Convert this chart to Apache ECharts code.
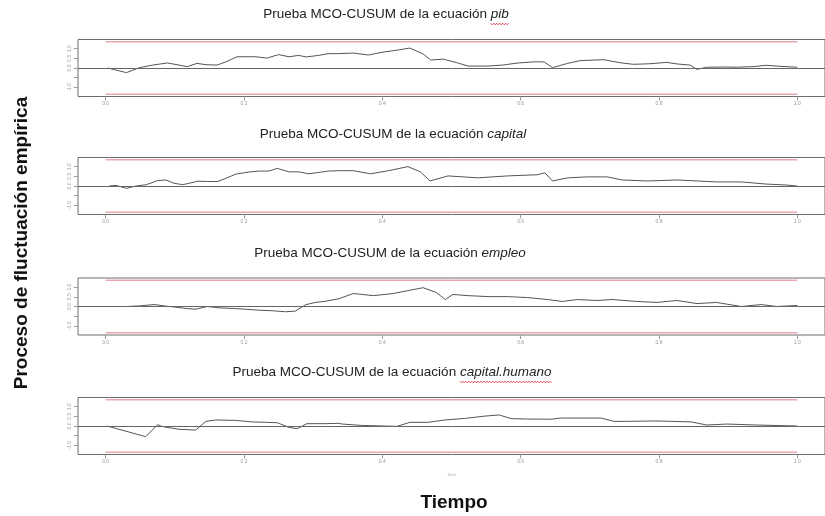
<!DOCTYPE html>
<html>
<head>
<meta charset="utf-8">
<script src="https://cdn.jsdelivr.net/npm/echarts@6/dist/echarts.min.js"></script>
<style>
  html, body { margin: 0; padding: 0; background: #fff; }
  #chart { width: 825px; height: 516px; }
</style>
</head>
<body>
<div id="chart"></div>
<script>
// Equation names shown in each panel title
const equations = ['pib', 'capital', 'empleo', 'capital.humano'];
// Tick positions and labels
const xTicks = [0, 0.2, 0.4, 0.6, 0.8, 1.0];
const yTicks = [-1, -0.5, 0, 0.5, 1];
const yLabelTicks = [-1, 0, 0.5, 1];
// 5% critical boundary of the OLS-CUSUM process
const boundary = 1.358;

// Empirical fluctuation process, [time, value]
const cusumPib = [
  [0.003, 0.00], [0.03, -0.24], [0.049, 0.02], [0.068, 0.15], [0.089, 0.26], [0.10, 0.19],
  [0.118, 0.07], [0.132, 0.24], [0.145, 0.17], [0.161, 0.15], [0.174, 0.32], [0.19, 0.58],
  [0.217, 0.58], [0.233, 0.51], [0.25, 0.69], [0.265, 0.58], [0.279, 0.65], [0.29, 0.57],
  [0.308, 0.65], [0.322, 0.74], [0.337, 0.74], [0.358, 0.77], [0.38, 0.67], [0.401, 0.82],
  [0.423, 0.93], [0.44, 1.03], [0.459, 0.72], [0.47, 0.41], [0.488, 0.46], [0.509, 0.26],
  [0.524, 0.10], [0.553, 0.10], [0.574, 0.15], [0.596, 0.26], [0.617, 0.31], [0.624, 0.32],
  [0.634, 0.31], [0.646, 0.02], [0.668, 0.24], [0.686, 0.38], [0.72, 0.43], [0.744, 0.27],
  [0.763, 0.19], [0.787, 0.22], [0.811, 0.29], [0.826, 0.21], [0.845, 0.15], [0.855, -0.07],
  [0.869, 0.04], [0.893, 0.05], [0.912, 0.04], [0.936, 0.07], [0.955, 0.14], [0.974, 0.09],
  [1.0, 0.04]
];
const cusumCapital = [
  [0.005, 0.00], [0.015, 0.03], [0.03, -0.12], [0.044, 0.00], [0.059, 0.07], [0.075, 0.28],
  [0.087, 0.31], [0.099, 0.14], [0.111, 0.07], [0.121, 0.14], [0.133, 0.25], [0.147, 0.23],
  [0.162, 0.23], [0.174, 0.40], [0.188, 0.61], [0.207, 0.72], [0.222, 0.77], [0.236, 0.77],
  [0.248, 0.91], [0.265, 0.73], [0.279, 0.73], [0.294, 0.63], [0.308, 0.70], [0.322, 0.77],
  [0.337, 0.79], [0.358, 0.79], [0.383, 0.63], [0.409, 0.79], [0.437, 1.00], [0.455, 0.73],
  [0.469, 0.26], [0.495, 0.52], [0.538, 0.42], [0.581, 0.52], [0.624, 0.58], [0.635, 0.68],
  [0.646, 0.26], [0.668, 0.42], [0.696, 0.47], [0.725, 0.47], [0.747, 0.31], [0.783, 0.26],
  [0.826, 0.31], [0.855, 0.26], [0.883, 0.21], [0.919, 0.21], [0.955, 0.10], [0.984, 0.05],
  [1.0, 0.00]
];
const cusumEmpleo = [
  [0.008, 0.00], [0.03, 0.00], [0.049, 0.03], [0.07, 0.10], [0.087, 0.02], [0.10, -0.03],
  [0.116, -0.10], [0.13, -0.14], [0.147, 0.00], [0.164, -0.07], [0.183, -0.10], [0.202, -0.14],
  [0.222, -0.19], [0.241, -0.22], [0.26, -0.27], [0.274, -0.24], [0.289, 0.09], [0.303, 0.21],
  [0.318, 0.27], [0.337, 0.40], [0.358, 0.67], [0.387, 0.56], [0.416, 0.67], [0.437, 0.82],
  [0.459, 0.97], [0.478, 0.72], [0.491, 0.36], [0.502, 0.62], [0.524, 0.56], [0.553, 0.51],
  [0.581, 0.51], [0.61, 0.46], [0.639, 0.36], [0.66, 0.26], [0.682, 0.36], [0.711, 0.31],
  [0.732, 0.36], [0.768, 0.26], [0.797, 0.21], [0.826, 0.31], [0.855, 0.15], [0.883, 0.21],
  [0.919, 0.00], [0.948, 0.10], [0.97, 0.00], [1.0, 0.05]
];
const cusumCapitalHumano = [
  [0.002, 0.00], [0.058, -0.55], [0.075, 0.07], [0.082, -0.03], [0.106, -0.17], [0.13, -0.21],
  [0.145, 0.24], [0.159, 0.31], [0.188, 0.29], [0.212, 0.21], [0.231, 0.19], [0.248, 0.17],
  [0.265, -0.07], [0.277, -0.14], [0.291, 0.12], [0.318, 0.12], [0.337, 0.14], [0.342, 0.10],
  [0.37, 0.03], [0.401, 0.00], [0.421, -0.02], [0.44, 0.19], [0.466, 0.19], [0.49, 0.31],
  [0.519, 0.39], [0.548, 0.51], [0.569, 0.57], [0.586, 0.38], [0.61, 0.36], [0.644, 0.35],
  [0.658, 0.41], [0.716, 0.41], [0.735, 0.24], [0.754, 0.24], [0.797, 0.26], [0.847, 0.21],
  [0.869, 0.05], [0.898, 0.10], [0.941, 0.05], [1.0, 0.00]
];
const panelData = [cusumPib, cusumCapital, cusumEmpleo, cusumCapitalHumano];

// Layout of the four stacked panels
const gridTops = [39.5, 157.5, 278, 397.5];
const gridHeight = 57;
const titleY = [14, 134, 253, 372];
const titleX = [386, 393, 390, 392];
const FONT = '"Liberation Sans", Arial, sans-serif';
const TITLE_SIZE = 13.5;

const chart = echarts.init(document.getElementById('chart'), null, { renderer: 'canvas' });

const grids = [], xAxes = [], yAxes = [], series = [], graphics = [];

// width measurement for the spell-check squiggles under two of the titles
const mctx = document.createElement('canvas').getContext('2d');
function textWidth(str, italic) {
  mctx.font = (italic ? 'italic ' : '') + TITLE_SIZE + 'px ' + FONT;
  return mctx.measureText(str).width;
}
function squiggle(x0, x1, y) {
  const pts = [];
  let up = true;
  for (let x = x0; x <= x1; x += 1.5) { pts.push([x, y + (up ? -0.8 : 0.8)]); up = !up; }
  return {
    type: 'polyline', silent: true,
    shape: { points: pts },
    style: { stroke: '#e0454f', lineWidth: 1, fill: null }
  };
}

equations.forEach((name, i) => {
  grids.push({
    left: 78, width: 751, top: gridTops[i], height: gridHeight,
    show: true, borderColor: '#6e6e6e', borderWidth: 1, backgroundColor: 'transparent'
  });
  xAxes.push({
    gridIndex: i, type: 'value', min: -0.04, max: 1.04, position: 'bottom',
    axisLine: { show: false, onZero: false },
    splitLine: { show: false },
    axisTick: { show: true, customValues: xTicks, length: 4, lineStyle: { color: '#999' } },
    axisLabel: {
      customValues: xTicks, fontSize: 5, color: '#999', margin: 5, fontFamily: FONT,
      formatter: v => v.toFixed(1)
    },
    name: i === 3 ? 'Time' : '',
    nameLocation: 'middle', nameGap: 18,
    nameTextStyle: { fontSize: 4, color: '#aaa', fontFamily: FONT }
  });
  yAxes.push({
    gridIndex: i, type: 'value', min: -1.47, max: 1.47, position: 'left',
    axisLine: { show: false, onZero: false },
    splitLine: { show: false },
    axisTick: { show: true, customValues: yTicks, length: 4, lineStyle: { color: '#999' } },
    axisLabel: {
      customValues: yLabelTicks, fontSize: 5, color: '#999', margin: 6, rotate: 90,
      fontFamily: FONT, formatter: v => v.toFixed(1)
    }
  });
  // upper and lower critical boundaries
  [boundary, -boundary].forEach(b => {
    series.push({
      type: 'line', xAxisIndex: i, yAxisIndex: i, silent: true,
      data: [[0, b], [1, b]], showSymbol: false,
      lineStyle: { color: '#eba7b0', width: 1.5 }
    });
  });
  series.push({
    type: 'line', xAxisIndex: i, yAxisIndex: i, silent: true,
    data: panelData[i], showSymbol: false,
    lineStyle: { color: '#555', width: 1 },
    markLine: {
      silent: true, symbol: 'none', label: { show: false },
      lineStyle: { color: '#666', width: 1, type: 'solid' },
      data: [{ yAxis: 0 }]
    }
  });

  // panel title with the equation name in italics
  const base = 'Prueba MCO-CUSUM de la ecuación ';
  graphics.push({
    type: 'text', x: titleX[i], y: titleY[i], silent: true,
    style: {
      text: base + '{i|' + name + '}',
      font: TITLE_SIZE + 'px ' + FONT, fill: '#222',
      align: 'center', verticalAlign: 'middle',
      rich: { i: { fontStyle: 'italic', fontSize: TITLE_SIZE, fontFamily: FONT, fill: '#222' } }
    }
  });
  if (name === 'pib' || name === 'capital.humano') {
    const wb = textWidth(base, false), wi = textWidth(name, true);
    const left = titleX[i] - (wb + wi) / 2;
    graphics.push(squiggle(left + wb, left + wb + wi, titleY[i] + 10));
  }
});

graphics.push({
  type: 'text', x: 22, y: 243, rotation: Math.PI / 2, silent: true,
  style: {
    text: 'Proceso de fluctuación empírica', font: 'bold 19px ' + FONT, fill: '#111',
    align: 'center', verticalAlign: 'middle'
  }
});
graphics.push({
  type: 'text', x: 454, y: 503, silent: true,
  style: {
    text: 'Tiempo', font: 'bold 19px ' + FONT, fill: '#111',
    align: 'center', verticalAlign: 'middle'
  }
});

chart.setOption({
  animation: false,
  backgroundColor: '#fff',
  grid: grids, xAxis: xAxes, yAxis: yAxes, series: series,
  graphic: graphics
});
</script>
</body>
</html>
